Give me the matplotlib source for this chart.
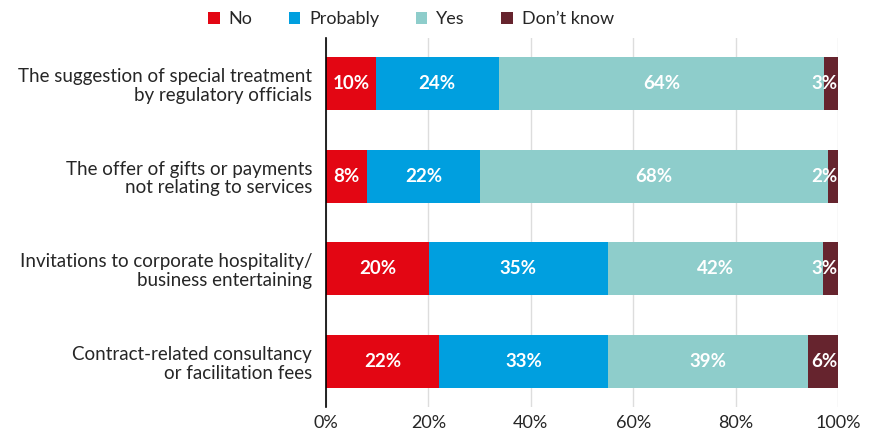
import matplotlib
matplotlib.use("Agg")
import matplotlib.pyplot as plt
from matplotlib.patches import Patch
import numpy as np

categories = [
    "The suggestion of special treatment\nby regulatory officials",
    "The offer of gifts or payments\nnot relating to services",
    "Invitations to corporate hospitality/\nbusiness entertaining",
    "Contract-related consultancy\nor facilitation fees",
]
series_names = ["No", "Probably", "Yes", "Don\u2019t know"]
no_vals = [9.7, 8.0, 20.1, 22.1]
probably_vals = [24.0, 22.1, 34.9, 32.9]
yes_vals = [63.6, 68.0, 42.1, 39.2]
dontknow_vals = [2.7, 1.9, 2.9, 5.8]
xticks = [0, 20, 40, 60, 80, 100]
xtick_labels = ["0%", "20%", "40%", "60%", "80%", "100%"]

colors = ["#E30613", "#009FDF", "#8ECDCB", "#66242E"]
text_color = "#262626"

plt.rcParams['font.family'] = ['Lato', 'DejaVu Sans']

fig = plt.figure(figsize=(8.76, 4.32), dpi=100)
ax = fig.add_axes([326/876, 1 - 407/432, 512/876, 369/432])

y = np.arange(len(categories))
series = [no_vals, probably_vals, yes_vals, dontknow_vals]
left = np.zeros(len(categories))
for si, (vals, col) in enumerate(zip(series, colors)):
    vals = np.array(vals)
    ax.barh(y, vals, left=left, height=0.57, color=col, zorder=3)
    for i, v in enumerate(vals):
        lab = f"{int(round(v))}%"
        if si == 3:
            ax.text(left[i] + v, y[i], lab, ha="right", va="center",
                    color="white", fontsize=13.5, fontweight="bold", zorder=4)
        else:
            ax.text(left[i] + v / 2, y[i], lab, ha="center", va="center",
                    color="white", fontsize=13.5, fontweight="bold", zorder=4)
    left = left + vals

ax.set_ylim(3.49, -0.49)
ax.set_xlim(0, 100)
ax.set_yticks(y)
ax.set_yticklabels(categories, fontsize=13.5, color=text_color, linespacing=1.12)
ax.set_xticks(xticks)
ax.set_xticklabels(xtick_labels, fontsize=13, color=text_color)
ax.tick_params(axis="x", length=0, pad=6)
ax.tick_params(axis="y", length=0, pad=10)
ax.xaxis.grid(True, color="#dddddd", linewidth=1, zorder=0)
ax.set_axisbelow(True)
for s in ["top", "right", "bottom"]:
    ax.spines[s].set_visible(False)
ax.spines["left"].set_color("black")
ax.spines["left"].set_linewidth(1.2)
ax.spines["left"].set_zorder(5)

handles = [Patch(facecolor=c, edgecolor="none") for c in colors]
fig.legend(handles, series_names, loc="center", bbox_to_anchor=(411/876, 1 - 19/432),
           ncol=4, frameon=False, fontsize=13, handlelength=0.65, handleheight=0.65,
           handletextpad=0.5, columnspacing=2.0, labelcolor=text_color)

fig.savefig("out.png", dpi=100)
